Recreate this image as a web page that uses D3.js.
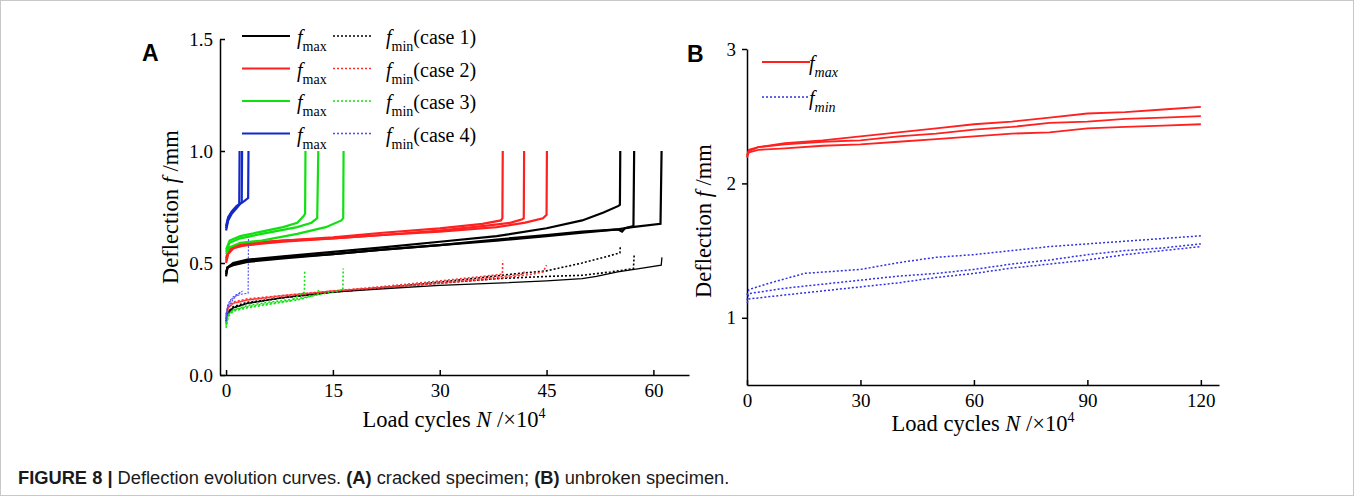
<!DOCTYPE html>
<html>
<head>
<meta charset="utf-8">
<script src="https://cdn.jsdelivr.net/npm/d3@7"></script>
<style>
  body { margin: 0; background: #fff; }
  svg { display: block; }
  .tick text { font-family: "Liberation Serif", serif; font-size: 19px; fill: #000; }
  .axis path, .axis line { stroke: #000; stroke-width: 1.5px; }
  .ttl { font-family: "Liberation Serif", serif; font-size: 20px; fill: #000; }
  .big { font-size: 22.5px; }
</style>
</head>
<body>
<svg id="chart" width="1355" height="496"></svg>
<script>
// ---- panel A: cracked specimen (x in 10^4 cycles, y in mm) ----
const ticksAx = [0, 15, 30, 45, 60];
const ticksAy = [0.0, 0.5, 1.0, 1.5];
const caseNames = ['case 1', 'case 2', 'case 3', 'case 4'];

const case1Max = [
  [[0,0.44],[0.2,0.48],[1,0.5],[3,0.515],[8,0.53],[15,0.55],[22,0.57],[30,0.595],[38,0.62],[45,0.655],[50,0.69],[53,0.725],[55.1,0.755],[55.3,0.76],[55.35,1.0]],
  [[0,0.45],[0.2,0.48],[1,0.495],[3,0.51],[8,0.525],[15,0.54],[22,0.56],[30,0.58],[38,0.605],[45,0.625],[50,0.64],[55,0.65],[55.6,0.64],[56,0.655],[57.2,0.665],[57.3,1.0]],
  [[0,0.46],[0.2,0.48],[1,0.49],[3,0.505],[8,0.52],[15,0.54],[22,0.56],[30,0.58],[38,0.6],[45,0.62],[50,0.635],[55,0.65],[57,0.66],[61,0.675],[61.15,1.0]]
];
const case2Max = [
  [[0,0.5],[0.3,0.54],[1,0.565],[3,0.585],[8,0.6],[15,0.615],[22,0.635],[30,0.655],[36,0.675],[38.6,0.69],[38.8,0.7],[38.85,1.0]],
  [[0,0.51],[0.3,0.55],[1,0.57],[3,0.58],[8,0.595],[15,0.61],[22,0.625],[30,0.645],[36,0.665],[40,0.68],[41.6,0.695],[41.8,0.7],[41.85,1.0]],
  [[0,0.52],[0.3,0.56],[1,0.575],[3,0.59],[8,0.6],[15,0.61],[22,0.625],[30,0.64],[38,0.66],[42,0.68],[44.5,0.7],[45,0.715],[45.05,1.0]]
];
const case3Max = [
  [[0,0.56],[0.5,0.6],[2,0.62],[5,0.64],[8,0.66],[10,0.68],[10.9,0.71],[11.1,0.72],[11.15,1.0]],
  [[0,0.55],[0.5,0.59],[2,0.61],[5,0.63],[10,0.66],[12,0.68],[12.8,0.7],[12.95,1.0]],
  [[0,0.54],[0.5,0.57],[2,0.59],[5,0.6],[10,0.63],[14,0.66],[16.2,0.69],[16.45,0.7],[16.5,1.0]]
];
const case4Max = [
  [[0,0.645],[0.3,0.69],[0.8,0.72],[1.5,0.745],[1.85,0.76],[1.9,1.0]],
  [[0,0.655],[0.3,0.7],[0.8,0.725],[1.5,0.75],[2.2,0.77],[2.25,1.0]],
  [[0,0.665],[0.3,0.705],[0.8,0.73],[1.5,0.755],[2.5,0.775],[3.1,0.79],[3.15,1.0]]
];
const case1Min = [
  [[0,0.24],[0.2,0.28],[1,0.305],[3,0.325],[8,0.345],[15,0.37],[22,0.39],[30,0.415],[36,0.435],[40,0.45],[45,0.465],[50,0.5],[53,0.525],[55.3,0.545],[55.35,0.57]],
  [[0,0.25],[0.2,0.28],[1,0.3],[3,0.32],[8,0.345],[15,0.37],[22,0.39],[30,0.41],[38,0.43],[45,0.44],[50,0.445],[54,0.46],[57.2,0.475],[57.3,0.535]],
  [[0,0.23],[0.2,0.27],[1,0.3],[3,0.32],[8,0.345],[15,0.37],[22,0.385],[30,0.4],[38,0.41],[45,0.42],[50,0.43],[52,0.44],[55,0.46],[58,0.475],[61.1,0.49],[61.2,0.525]]
];
const case2Min = [
  [[0,0.26],[0.3,0.3],[1,0.32],[3,0.335],[8,0.35],[15,0.375],[22,0.395],[30,0.42],[36,0.44],[38.8,0.45],[38.85,0.51]],
  [[0,0.27],[0.3,0.31],[1,0.325],[3,0.34],[8,0.355],[15,0.375],[22,0.39],[30,0.41],[36,0.43],[41.8,0.45],[41.85,0.47]],
  [[0,0.27],[0.3,0.3],[1,0.32],[3,0.335],[8,0.355],[15,0.375],[22,0.39],[30,0.41],[38,0.43],[43,0.45],[44.5,0.46],[45,0.49]]
];
const case3Min = [
  [[0,0.21],[0.3,0.26],[1,0.285],[3,0.3],[6,0.315],[9,0.33],[11,0.37],[11.05,0.47]],
  [[0,0.22],[0.3,0.27],[1,0.29],[3,0.305],[6,0.32],[10,0.335],[12.9,0.36],[12.95,0.38]],
  [[0,0.23],[0.3,0.27],[1,0.29],[3,0.31],[6,0.325],[10,0.34],[14,0.365],[16.4,0.38],[16.45,0.475]]
];
const case4Min = [
  [[0,0.24],[0.2,0.29],[0.6,0.32],[1.2,0.345],[2,0.37]],
  [[0,0.25],[0.2,0.3],[0.6,0.33],[1.2,0.35],[2,0.36],[3.1,0.365],[3.15,0.63]],
  [[0,0.26],[0.2,0.31],[0.6,0.335],[1.2,0.355],[1.9,0.365],[2.3,0.375]]
];

// ---- panel B: unbroken specimen ----
const ticksBx = [0, 30, 60, 90, 120];
const ticksBy = [1, 2, 3];
const unbrokenMax = [
  [[0,2.21],[0.5,2.25],[3,2.27],[10,2.3],[20,2.32],[30,2.35],[40,2.38],[50,2.41],[60,2.44],[70,2.46],[80,2.49],[90,2.52],[100,2.53],[110,2.55],[120,2.57]],
  [[0,2.19],[0.5,2.24],[3,2.27],[10,2.29],[20,2.31],[30,2.32],[40,2.35],[50,2.37],[60,2.4],[70,2.42],[80,2.45],[90,2.46],[100,2.48],[110,2.49],[120,2.5]],
  [[0,2.2],[0.5,2.23],[3,2.25],[10,2.26],[20,2.28],[30,2.29],[40,2.31],[50,2.33],[60,2.35],[70,2.37],[80,2.38],[90,2.41],[100,2.42],[110,2.43],[120,2.44]]
];
const unbrokenMin = [
  [[0,1.17],[0.5,1.21],[5,1.25],[10,1.29],[14,1.32],[15,1.33],[25,1.35],[30,1.36],[40,1.41],[50,1.45],[60,1.47],[70,1.5],[80,1.53],[90,1.55],[100,1.57],[110,1.59],[120,1.61]],
  [[0,1.13],[0.5,1.18],[10,1.22],[20,1.25],[30,1.28],[40,1.31],[50,1.33],[60,1.36],[70,1.4],[80,1.43],[90,1.47],[100,1.5],[110,1.52],[120,1.55]],
  [[0,1.11],[0.5,1.14],[10,1.17],[20,1.2],[30,1.23],[40,1.26],[50,1.3],[60,1.33],[70,1.37],[80,1.4],[90,1.43],[100,1.47],[110,1.5],[120,1.53]]
];

const COLORS = ['#000000', '#ff2020', '#10e010', '#1428c8'];
const MIN_COLORS = ['#000000', '#ff3030', '#10e010', '#4a4aff'];

const svg = d3.select('#chart');

// frame around the figure
svg.append('rect')
  .attr('x', 0.5).attr('y', 0.5).attr('width', 1353).attr('height', 495)
  .attr('fill', 'none').attr('stroke', '#c8c8c8');

/**
 * Draws one polyline per curve
 */
function drawCurves(g, curves, x, y, color, width, dash) {
  const line = d3.line().x(d => x(d[0])).y(d => y(d[1]));
  g.selectAll(null)
    .data(curves)
    .enter()
    .append('path')
    .attr('d', line)
    .attr('fill', 'none')
    .attr('stroke', color)
    .attr('stroke-width', width)
    .attr('stroke-dasharray', dash || null);
}

/**
 * f with a subscript, optionally followed by more text
 */
function fLabel(g, xPos, yPos, sub, tail, italicSub) {
  const t = g.append('text').attr('class', 'ttl').attr('x', xPos).attr('y', yPos);
  t.append('tspan').attr('font-style', 'italic').text('f');
  t.append('tspan').attr('dy', 7).attr('font-size', 14)
    .attr('font-style', italicSub ? 'italic' : null).text(sub);
  if (tail) t.append('tspan').attr('dy', -7).text(tail);
}

function yTitle(t) {
  t.append('tspan').text('Deflection ');
  t.append('tspan').attr('font-style', 'italic').text('f');
  t.append('tspan').text(' /mm');
}

function xTitle(t) {
  t.append('tspan').text('Load cycles ');
  t.append('tspan').attr('font-style', 'italic').text('N');
  t.append('tspan').text(' /×10');
  t.append('tspan').attr('dy', -9).attr('font-size', 14).text('4');
}

// ===== panel A =====
const xA = d3.scaleLinear().domain([-0.85, 65]).range([220, 689]);
const yA = d3.scaleLinear().domain([0, 1.5]).range([375, 39]);

svg.append('g').attr('class', 'axis').attr('transform', 'translate(0,375)')
  .call(d3.axisBottom(xA).tickValues(ticksAx).tickFormat(d3.format('d')).tickSize(-5).tickSizeOuter(0).tickPadding(9));
svg.append('g').attr('class', 'axis').attr('transform', 'translate(220,0)')
  .call(d3.axisLeft(yA).tickValues(ticksAy).tickFormat(d3.format('.1f')).tickSize(-5).tickSizeOuter(0).tickPadding(7));

const gA = svg.append('g');
[case1Min, case2Min, case3Min].forEach((set, i) => {
  set.forEach((c, j) => {
    const solid = i === 0 && j === 2;
    drawCurves(gA, [c], xA, yA, MIN_COLORS[i], solid ? 1.3 : 1.6, solid ? null : '2,2');
  });
});
drawCurves(gA, case4Min, xA, yA, MIN_COLORS[3], 1.1, '2,1.5');
[case1Max, case2Max, case3Max, case4Max].forEach((set, i) => {
  drawCurves(gA, set, xA, yA, COLORS[i], 2.2, null);
});

// legend A
caseNames.forEach((name, i) => {
  const ry = 36 + i * 32.5;
  svg.append('line').attr('x1', 242).attr('x2', 290).attr('y1', ry).attr('y2', ry)
    .attr('stroke', COLORS[i]).attr('stroke-width', 2.2);
  fLabel(svg, 297, ry + 8, 'max', null, false);
  svg.append('line').attr('x1', 333).attr('x2', 373).attr('y1', ry).attr('y2', ry)
    .attr('stroke', MIN_COLORS[i]).attr('stroke-width', 1.4).attr('stroke-dasharray', '2,2');
  fLabel(svg, 386, ry + 8, 'min', '(' + name + ')', false);
});

// titles A
svg.append('text').attr('class', 'ttl big')
  .attr('transform', 'translate(178,207) rotate(-90)').attr('text-anchor', 'middle')
  .call(yTitle);
svg.append('text').attr('class', 'ttl big').attr('x', 454).attr('y', 427).attr('text-anchor', 'middle')
  .call(xTitle);
svg.append('text').attr('x', 142).attr('y', 61)
  .attr('font-family', '"Liberation Sans", Arial, sans-serif').attr('font-weight', 'bold')
  .attr('font-size', 23).text('A');

// ===== panel B =====
const xB = d3.scaleLinear().domain([0, 124.8]).range([747, 1219]);
const yB = d3.scaleLinear().domain([0.5, 3]).range([385, 49]);

svg.append('g').attr('class', 'axis').attr('transform', 'translate(0,385)')
  .call(d3.axisBottom(xB).tickValues(ticksBx).tickFormat(d3.format('d')).tickSize(-5).tickSizeOuter(0).tickPadding(9));
svg.append('g').attr('class', 'axis').attr('transform', 'translate(747,0)')
  .call(d3.axisLeft(yB).tickValues(ticksBy).tickFormat(d3.format('d')).tickSize(5).tickSizeOuter(0).tickPadding(6));

const gB = svg.append('g');
drawCurves(gB, unbrokenMin, xB, yB, '#3030e8', 1.5, '2,2');
drawCurves(gB, unbrokenMax, xB, yB, '#ff2020', 1.8, null);

// legend B
svg.append('line').attr('x1', 762).attr('x2', 810).attr('y1', 62).attr('y2', 62)
  .attr('stroke', '#ff2020').attr('stroke-width', 1.8);
fLabel(svg, 809, 70, 'max', null, true);
svg.append('line').attr('x1', 762).attr('x2', 810).attr('y1', 97).attr('y2', 97)
  .attr('stroke', '#3030e8').attr('stroke-width', 1.5).attr('stroke-dasharray', '2,2');
fLabel(svg, 809, 105, 'min', null, true);

svg.append('text').attr('class', 'ttl big')
  .attr('transform', 'translate(711,221) rotate(-90)').attr('text-anchor', 'middle')
  .call(yTitle);
svg.append('text').attr('class', 'ttl big').attr('x', 983).attr('y', 431).attr('text-anchor', 'middle')
  .call(xTitle);
svg.append('text').attr('x', 687).attr('y', 62)
  .attr('font-family', '"Liberation Sans", Arial, sans-serif').attr('font-weight', 'bold')
  .attr('font-size', 23).text('B');

// caption
svg.append('text').attr('x', 18).attr('y', 484)
  .attr('font-family', '"Liberation Sans", Arial, sans-serif')
  .attr('font-size', 18.3).attr('fill', '#1a1a1a')
  .call(t => {
    t.append('tspan').attr('font-weight', 'bold').text('FIGURE 8 | ');
    t.append('tspan').text('Deflection evolution curves. ');
    t.append('tspan').attr('font-weight', 'bold').text('(A)');
    t.append('tspan').text(' cracked specimen; ');
    t.append('tspan').attr('font-weight', 'bold').text('(B)');
    t.append('tspan').text(' unbroken specimen.');
  });
</script>
</body>
</html>
